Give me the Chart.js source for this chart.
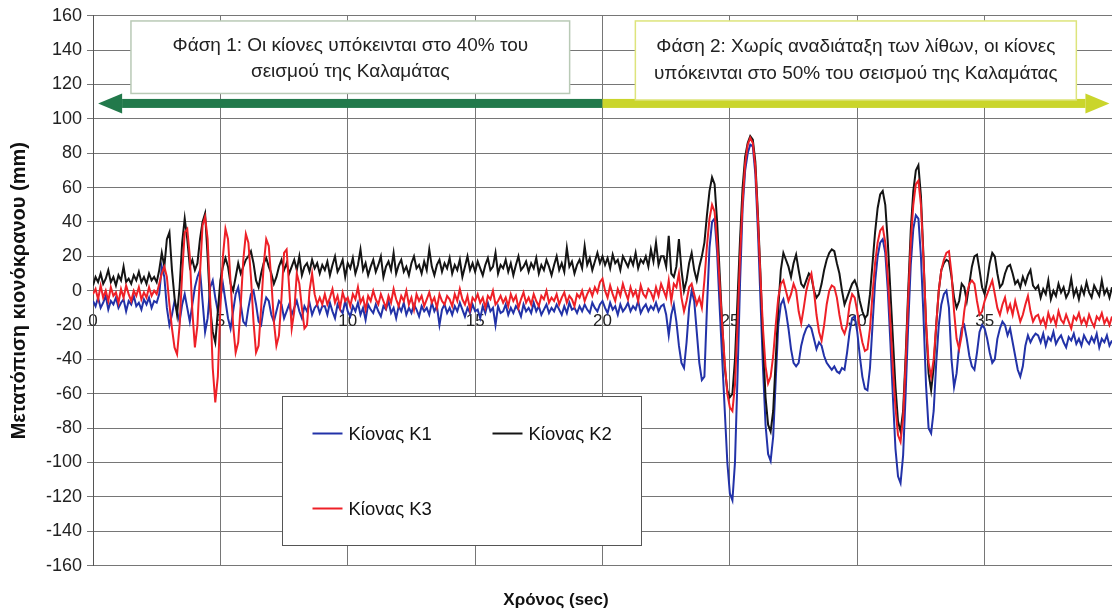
<!DOCTYPE html>
<html>
<head>
<meta charset="utf-8">
<script src="https://cdn.jsdelivr.net/npm/chart.js@4.4.1/dist/chart.umd.min.js"></script>
<style>
  html, body { margin: 0; padding: 0; background: #fff; }
  #wrap { width: 1112px; height: 614px; }
</style>
</head>
<body>
<div id="wrap"><canvas id="chart" width="1112" height="614"></canvas></div>
<script>
// sampling step of the records (sec), one row = one second
const dt = 0.1;

// Κίονας K1 (blue)
const k1 = [
  -6,-9,-4,-10,-7,-3,-11,-6,-8,-4,
  -10,-7,-5,-12,-6,-8,-3,-9,-7,-11,
  -5,-8,-4,-10,-6,-7,-2,14,8,-10,
  -20,-14,-6,-12,-18,-8,-2,-10,-18,-8,
  2,8,12,-6,-24,-16,2,6,-4,-12,
  -4,4,-6,-16,-22,-12,-2,2,-8,-18,
  -20,-10,-2,0,-8,-18,-20,-10,-4,-6,
  -14,-18,-12,-6,-8,-16,-12,-8,-14,-10,
  -6,-12,-16,-9,-12,-7,-14,-10,-8,-13,
  -9,-9,-14,-7,-12,-16,-8,-11,-13,-6,
  -12,-15,-9,-12,-7,-14,-10,-17,-8,-11,
  -13,-8,-12,-15,-9,-11,-6,-13,-10,-16,
  -9,-12,-7,-14,-10,-13,-8,-11,-15,-9,
  -12,-10,-14,-7,-12,-9,-20,-11,-8,-13,
  -10,-14,-9,-12,-7,-11,-15,-10,-13,-8,
  -12,-11,-16,-9,-13,-7,-12,-10,-20,-9,
  -13,-12,-8,-14,-10,-13,-9,-11,-15,-8,
  -12,-10,-13,-7,-12,-9,-14,-11,-8,-13,
  -10,-12,-8,-11,-14,-9,-13,-7,-11,-10,
  -13,-9,-12,-8,-11,-13,-7,-10,-12,-8,
  -6,-10,-13,-7,-11,-9,-14,-8,-12,-10,
  -7,-12,-9,-11,-6,-13,-10,-8,-12,-9,
  -11,-7,-12,-9,-8,-14,-26,-14,-8,-18,
  -32,-42,-45,-30,-10,0,-6,-24,-42,-52,
  -50,-10,25,40,42,22,-10,-40,-70,-100,
  -118,-122,-100,-50,5,48,70,80,85,84,
  68,35,-5,-45,-78,-95,-99,-85,-52,-20,
  -8,-5,-12,-22,-34,-42,-44,-42,-32,-26,
  -22,-20,-22,-28,-34,-30,-32,-38,-42,-44,
  -46,-44,-47,-48,-45,-46,-36,-24,-16,-15,
  -24,-38,-50,-57,-58,-45,-20,5,20,28,
  30,22,0,-30,-62,-92,-108,-112,-96,-60,
  -20,15,36,44,42,20,-15,-55,-80,-83,
  -70,-42,-20,-8,-2,0,-10,-40,-56,-48,
  -32,-22,-20,-28,-38,-44,-46,-36,-24,-20,
  -22,-28,-36,-42,-40,-28,-22,-18,-20,-26,
  -22,-30,-38,-46,-50,-44,-32,-26,-30,-27,
  -25,-26,-30,-25,-32,-27,-29,-24,-31,-28,
  -26,-30,-33,-27,-29,-25,-31,-28,-32,-26,
  -29,-31,-27,-30,-25,-33,-28,-30,-26,-32,
  -29
];

// Κίονας K2 (black)
const k2 = [
  3,8,5,10,4,7,12,5,8,3,
  9,6,14,5,7,4,9,6,11,5,
  8,4,10,6,8,5,12,22,14,30,
  34,12,-4,-14,2,28,42,30,14,18,
  12,16,30,40,45,20,-10,-24,-30,-12,
  6,14,19,14,4,0,8,16,10,14,
  18,20,23,16,6,2,10,16,19,14,
  10,4,8,14,18,12,16,10,14,18,
  12,20,9,14,16,11,18,13,16,10,
  15,12,17,9,15,20,11,14,18,8,
  16,13,19,10,15,24,12,16,9,14,
  18,11,15,20,8,14,17,12,22,10,
  15,18,11,14,9,16,20,13,15,10,
  17,12,24,14,9,15,18,11,16,13,
  19,10,15,12,18,8,14,20,12,16,
  11,17,13,9,15,19,12,14,22,10,
  15,13,18,11,16,9,15,20,12,14,
  17,11,16,13,19,10,15,12,18,14,
  9,15,20,12,16,11,25,14,17,10,
  15,18,13,26,15,19,12,17,22,16,
  20,15,19,13,21,16,18,12,20,17,
  14,19,15,22,13,18,16,20,14,24,
  17,28,15,20,20,14,32,10,8,14,
  30,12,0,6,16,22,12,6,14,20,
  28,44,58,66,62,40,10,-20,-45,-58,
  -62,-60,-40,-5,30,60,78,86,90,88,
  75,45,10,-30,-62,-78,-82,-70,-40,-10,
  12,22,18,14,8,16,21,12,4,2,
  6,10,8,0,-4,-2,4,12,18,22,
  24,23,16,10,0,-8,-4,0,4,6,
  2,-6,-12,-16,-14,-2,16,34,48,56,
  58,50,28,0,-28,-56,-76,-82,-70,-38,
  0,35,58,70,73,55,20,-20,-48,-58,
  -45,-20,0,12,16,18,17,8,-4,-10,
  -6,4,2,-6,4,14,20,21,12,2,
  -2,6,16,22,20,10,2,4,10,14,
  15,10,4,6,2,8,4,9,12,3,
  1,3,-4,1,-2,6,-5,0,-3,4,
  -1,2,-4,-1,7,-3,1,-5,2,-2,
  5,-1,-4,3,0,-3,6,-2,1,-4,
  2
];

// Κίονας K3 (red)
const k3 = [
  -2,1,-5,3,-4,0,-6,2,-3,-1,
  -7,1,-4,3,-2,-6,0,-3,2,-5,
  -1,-4,2,-3,0,-2,4,10,14,8,
  -8,-22,-33,-37,-20,10,34,36,20,-12,
  -33,-20,10,38,43,30,-5,-45,-65,-50,
  -10,20,36,30,5,-20,-36,-30,-8,18,
  33,28,8,-18,-36,-32,-10,15,30,26,
  6,-18,-32,-26,-4,22,24,2,-22,-12,
  10,4,-10,-22,-20,0,10,-2,-8,-4,
  -8,-2,-8,-4,1,-7,-3,-10,-1,-6,
  -4,-9,-2,-5,2,-7,-4,-11,-3,-6,
  0,-5,-8,-2,-6,-10,-3,-7,1,-5,
  -9,-3,-6,0,-8,-4,-11,-2,-6,-3,
  -9,-5,-1,-7,-4,-10,-2,-6,-8,-3,
  -5,-9,-2,-6,1,-5,-8,-3,-11,-4,
  -6,-2,-7,-4,-10,-3,-5,0,-8,-6,
  -3,-7,-4,-9,-2,-6,-3,-10,-5,-1,
  -7,-4,-8,-2,-6,-9,-3,-5,0,-7,
  -4,-6,-2,-8,-4,-1,-7,-3,-5,-9,
  -2,-4,0,-6,-2,1,-3,2,-1,5,
  7,0,-4,3,-2,-6,1,-3,4,-1,
  -5,2,-3,0,-6,3,-2,-4,1,-1,
  -5,2,-3,4,0,-4,6,-6,4,2,
  10,-4,-12,-6,2,4,-2,-8,-4,-10,
  6,26,42,50,46,28,4,-20,-42,-60,
  -68,-70,-55,-20,20,52,74,85,89,86,
  72,42,8,-22,-44,-54,-50,-38,-20,-4,
  4,6,0,-6,-2,4,0,-12,-19,-10,
  0,6,10,0,-14,-24,-29,-20,-8,0,
  3,2,-4,-14,-22,-25,-20,-8,-2,-4,
  -12,-22,-30,-35,-34,-22,-2,16,28,35,
  37,28,8,-18,-45,-68,-84,-88,-74,-42,
  -5,28,50,62,64,50,18,-18,-42,-50,
  -40,-20,0,12,18,22,23,10,-12,-28,
  -34,-26,-12,-2,4,6,4,-6,-14,-12,
  -6,-2,2,6,-2,-10,-14,-8,-4,-12,
  -8,-14,-6,-12,-18,-14,-8,-3,-12,-18,
  -15,-14,-19,-16,-21,-13,-18,-15,-20,-12,
  -17,-19,-14,-18,-22,-15,-17,-13,-19,-16,
  -20,-14,-18,-21,-15,-17,-13,-19,-16,-20,
  -15
];

const seriesNames = ['Κίονας K1', 'Κίονας K2', 'Κίονας K3'];
const seriesColors = ['#2232a8', '#141414', '#ee2027'];

const xTitle = 'Χρόνος (sec)';
const yTitle = 'Μετατόπιση κιονόκρανου (mm)';

// phase notes: box corners and arrows in data units (sec, mm)
const phaseNotes = [
  { x0: 1.49, x1: 18.71, y0: 157, y1: 114.8, border: '#b9cab6',
    lines: ['Φάση 1: Οι κίονες υπόκεινται στο 40% του', 'σεισμού της Καλαμάτας'], dy: [25, 51] },
  { x0: 21.29, x1: 38.6, y0: 157, y1: 111, border: '#dde47c',
    lines: ['Φάση 2: Χωρίς αναδιάταξη των λίθων, οι κίονες', 'υπόκεινται στο 50% του σεισμού της Καλαμάτας'], dy: [26, 53] }
];
const phaseArrows = [
  { from: 20, to: 0.2, y: 109, color: '#22794b' },
  { from: 20, to: 39.9, y: 109, color: '#cad52c' }
];
// legend box corners in data units
const legendBox = { x0: 7.41, x1: 21.53, y0: -61.4, y1: -147.8 };

const FONT = "'Liberation Sans', Arial, sans-serif";

if (k1.length !== k2.length || k2.length !== k3.length) console.log('length mismatch', k1.length, k2.length, k3.length);

function toPoints(vals) {
  return vals.map((v, i) => ({ x: Math.round(i * dt * 10) / 10, y: v }));
}

const notesPlugin = {
  id: 'notes',
  afterDatasetsDraw(chart) {
    const { ctx, scales: { x, y } } = chart;
    ctx.save();

    // arrows
    phaseArrows.forEach(a => {
      const xs = x.getPixelForValue(a.from);
      const xt = x.getPixelForValue(a.to);
      const yy = y.getPixelForValue(a.y);
      const dir = xt > xs ? 1 : -1;
      const head = 24;
      ctx.fillStyle = a.color;
      const xb = xt - dir * head;
      ctx.fillRect(Math.min(xs, xb), yy - 4.5, Math.abs(xb - xs), 9);
      ctx.beginPath();
      ctx.moveTo(xt, yy);
      ctx.lineTo(xb, yy - 10);
      ctx.lineTo(xb, yy + 10);
      ctx.closePath();
      ctx.fill();
    });

    // phase boxes
    phaseNotes.forEach(n => {
      const l = x.getPixelForValue(n.x0), r = x.getPixelForValue(n.x1);
      const t = y.getPixelForValue(n.y0), b = y.getPixelForValue(n.y1);
      ctx.fillStyle = '#ffffff';
      ctx.fillRect(l, t, r - l, b - t);
      ctx.strokeStyle = n.border;
      ctx.lineWidth = 1.5;
      ctx.strokeRect(l, t, r - l, b - t);
      ctx.fillStyle = '#222';
      ctx.font = '19px ' + FONT;
      ctx.textAlign = 'center';
      ctx.textBaseline = 'middle';
      n.lines.forEach((s, i) => ctx.fillText(s, (l + r) / 2, t + n.dy[i]));
    });

    // legend
    const l = Math.round(x.getPixelForValue(legendBox.x0)) + 0.5;
    const r = Math.round(x.getPixelForValue(legendBox.x1)) + 0.5;
    const t = Math.round(y.getPixelForValue(legendBox.y0)) + 0.5;
    const b = Math.round(y.getPixelForValue(legendBox.y1)) + 0.5;
    ctx.fillStyle = '#ffffff';
    ctx.fillRect(l, t, r - l, b - t);
    ctx.strokeStyle = '#555';
    ctx.lineWidth = 1;
    ctx.strokeRect(l, t, r - l, b - t);
    const slots = [[30, 37], [210, 37], [30, 112]];
    ctx.font = '18.5px ' + FONT;
    ctx.textAlign = 'left';
    ctx.textBaseline = 'middle';
    seriesNames.forEach((name, i) => {
      const sx = l + slots[i][0], sy = t + slots[i][1];
      ctx.strokeStyle = seriesColors[i];
      ctx.lineWidth = 2;
      ctx.beginPath();
      ctx.moveTo(sx, sy);
      ctx.lineTo(sx + 30, sy);
      ctx.stroke();
      ctx.fillStyle = '#111';
      ctx.fillText(name, sx + 36, sy + 1);
    });

    ctx.restore();
  }
};

const ctx = document.getElementById('chart').getContext('2d');
const chart = new Chart(ctx, {
  type: 'line',
  data: {
    datasets: [k1, k2, k3].map((vals, i) => ({
      label: seriesNames[i],
      data: toPoints(vals),
      borderColor: seriesColors[i],
      backgroundColor: seriesColors[i],
      borderWidth: 2,
      pointRadius: 0,
      tension: 0,
      order: 3 - i
    }))
  },
  options: {
    responsive: false,
    animation: false,
    layout: { padding: { top: 14, left: 0, right: 0, bottom: 0 } },
    plugins: {
      legend: { display: false },
      tooltip: { enabled: false },
      title: {
        display: true,
        position: 'bottom',
        text: xTitle,
        color: '#111',
        font: { family: FONT, size: 17, weight: 'bold' },
        padding: { top: 25, bottom: 3 }
      }
    },
    scales: {
      x: {
        type: 'linear',
        position: { y: 0 },
        min: 0,
        max: 40,
        afterFit: s => { s.paddingLeft = 0; s.paddingRight = 0; },
        ticks: {
          stepSize: 5,
          padding: 20,
          color: '#222',
          maxRotation: 0,
          font: { family: FONT, size: 17 },
          callback: v => (v === 40 ? '' : v)
        },
        grid: { color: '#767676', drawTicks: false },
        border: { display: false }
      },
      y: {
        min: -160,
        max: 160,
        afterFit: s => { s.width = 93; },
        ticks: {
          stepSize: 20,
          padding: 5,
          color: '#222',
          font: { family: FONT, size: 18 }
        },
        grid: { color: '#767676', tickLength: 6 },
        border: { color: '#555' },
        title: {
          display: true,
          text: yTitle,
          color: '#111',
          font: { family: FONT, size: 20, weight: 'bold' },
          padding: { top: 7, bottom: 0 }
        }
      }
    }
  },
  plugins: [notesPlugin]
});
</script>
</body>
</html>
